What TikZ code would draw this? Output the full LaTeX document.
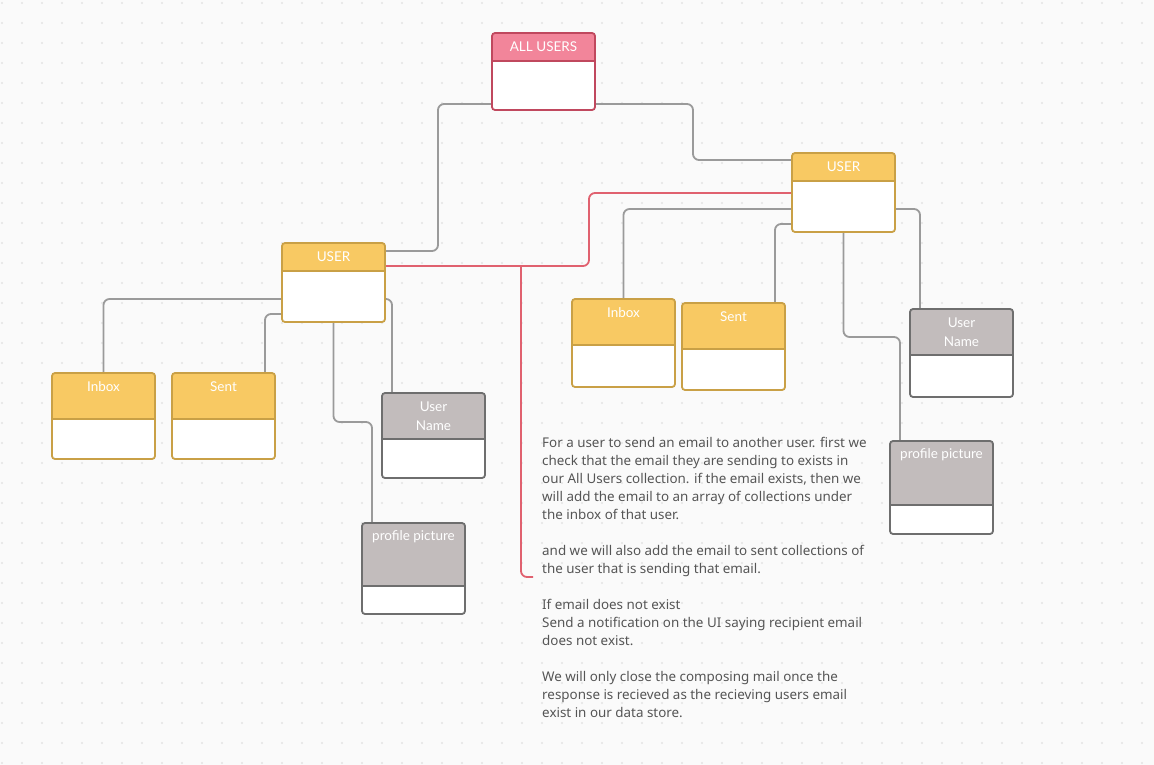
\documentclass[tikz,border=0pt]{standalone}
\usepackage{fontspec}
\setmainfont{Noto Sans}
\newfontfamily\lblfont{Lato}
\definecolor{bgc}{HTML}{FAFAFA}
\definecolor{dotc}{HTML}{E4E4E4}
\definecolor{yhead}{HTML}{F8C963}
\definecolor{yline}{HTML}{C9A046}
\definecolor{ghead}{HTML}{C2BCBC}
\definecolor{gline}{HTML}{6E6E6E}
\definecolor{phead}{HTML}{F2859A}
\definecolor{pline}{HTML}{C0485E}
\definecolor{connc}{HTML}{9A9A9A}
\definecolor{redc}{HTML}{E0616F}
\definecolor{txtc}{HTML}{555555}
\pgfdeclarelayer{gridlayer}
\pgfdeclarelayer{connlayer}
\pgfsetlayers{gridlayer,connlayer,main}
\tikzset{
  tbl/.style n args={4}{draw=#1, line width=1.8pt, rounded corners=3pt, fill=white,
    minimum width=103pt, minimum height=#3, inner sep=0pt, outer sep=0pt, anchor=north west,
    path picture={\fill[#2] (path picture bounding box.north west) rectangle ([yshift=-#4]path picture bounding box.north east);
      \draw[#1, line width=1.8pt] ([yshift=-#4]path picture bounding box.north west) -- ([yshift=-#4]path picture bounding box.north east);}},
  ybox/.style 2 args={tbl={yline}{yhead}{#1}{#2}},
  gbox/.style 2 args={tbl={gline}{ghead}{#1}{#2}},
  pbox/.style 2 args={tbl={pline}{phead}{#1}{#2}},
  hdr/.style={font=\lblfont\fontsize{13.5}{18.5}\selectfont, text=white, align=center, inner sep=0pt},
  conn/.style={draw=connc, line width=1.8pt, rounded corners=6pt},
  redln/.style={draw=redc, line width=1.8pt, rounded corners=6pt},
}
\begin{document}
\begin{tikzpicture}[x=1pt,y=-1pt]
\begin{pgfonlayer}{gridlayer}
\fill[bgc] (0,0) rectangle (1154,765);
\foreach \i in {0,...,57}{\foreach \j in {0,...,38}{\fill[dotc] (2+20*\i,3+20*\j) circle (1.2pt);}}
\end{pgfonlayer}
\useasboundingbox (0,0) rectangle (1154,765);

\node[pbox={77pt}{28pt}] (au) at (492,33) {};
\node[ybox={79pt}{28pt}] (lu) at (282,243) {};
\node[ybox={79pt}{28pt}] (ru) at (792,153) {};
\node[ybox={86pt}{46pt}] (li) at (52,373) {};
\node[ybox={86pt}{46pt}] (ls) at (172,373) {};
\node[gbox={85pt}{46pt}] (ln) at (382,393) {};
\node[gbox={91pt}{63pt}] (lp) at (362,523) {};
\node[ybox={88pt}{46pt}] (ri) at (572,299) {};
\node[ybox={87pt}{46pt}] (rs) at (682,303) {};
\node[gbox={88pt}{46pt}] (rn) at (910,309) {};
\node[gbox={93pt}{64pt}] (rp) at (890,441) {};

\coordinate (rj) at (521,266);
\coordinate (rend) at (533,577);

\begin{pgfonlayer}{connlayer}
\draw[conn] ([yshift=-71pt]au.north west) -- (438,104) |- ([yshift=-8pt]lu.north east);
\draw[conn] ([yshift=-71pt]au.north east) -- (693,104) |- ([yshift=-7pt]ru.north west);
\draw[redln] ([yshift=-40pt]ru.north west) -- (589,193) |- ([yshift=-23pt]lu.north east);
\draw[redln] (rj) |- (rend);

\draw[conn] ([yshift=-56pt]lu.north west) -| (li.north);
\draw[conn] ([yshift=-71pt]lu.north west) -| ([xshift=-10pt]ls.north east);
\draw[conn] ([yshift=-56pt]lu.north east) -| ([xshift=10pt]ln.north west);
\draw[conn] (lu.south) |- (372,422) -- ([xshift=10pt]lp.north west);

\draw[conn] ([yshift=-56pt]ru.north west) -| (ri.north);
\draw[conn] ([yshift=-71pt]ru.north west) -| ([xshift=-10pt]rs.north east);
\draw[conn] ([yshift=-56pt]ru.north east) -| ([xshift=10pt]rn.north west);
\draw[conn] (ru.south) |- (900,337) -- ([xshift=10pt]rp.north west);
\end{pgfonlayer}

\node[hdr] (aut) at ([yshift=-14pt]au.north) {ALL USERS};
\node[hdr] (lut) at ([yshift=-14pt]lu.north) {USER};
\node[hdr] (rut) at ([yshift=-14pt]ru.north) {USER};
\node[hdr] (lit) at ([yshift=-14pt]li.north) {Inbox};
\node[hdr] (lst) at ([yshift=-14pt]ls.north) {Sent};
\node[hdr] (lnt) at ([yshift=-23.3pt]ln.north) {User\\Name};
\node[hdr] (lpt) at ([yshift=-14pt]lp.north) {profile picture};
\node[hdr] (rit) at ([yshift=-14pt]ri.north) {Inbox};
\node[hdr] (rst) at ([yshift=-14pt]rs.north) {Sent};
\node[hdr] (rnt) at ([yshift=-23.3pt]rn.north) {User\\Name};
\node[hdr] (rpt) at ([yshift=-14pt]rp.north) {profile picture};

\node[anchor=base west, inner sep=0pt, align=left, text=txtc, font=\fontsize{13.4}{18}\selectfont] (note) at (542,717.5)
{For a user to send an email to another user. first we\\
check that the email they are sending to exists in\\
our All Users collection. if the email exists, then we\\
will add the email to an array of collections under\\
the inbox of that user.\\
~\\
and we will also add the email to sent collections of\\
the user that is sending that email.\\
~\\
If email does not exist\\
Send a notification on the UI saying recipient email\\
does not exist.\\
~\\
We will only close the composing mail once the\\
response is recieved as the recieving users email\\
exist in our data store.};
\end{tikzpicture}
\end{document}
